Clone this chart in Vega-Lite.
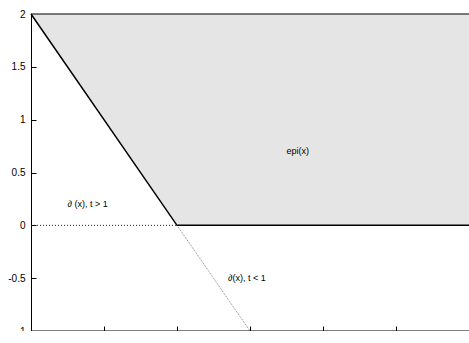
{
  "$schema": "https://vega.github.io/schema/vega-lite/v6.json",
  "autosize": {"type": "none"},
  "padding": {"left": 31, "top": 14, "right": 0, "bottom": 0},
  "width": 438,
  "height": 317,
  "background": "white",
  "config": {
    "view": {"stroke": "black", "strokeWidth": 1},
    "axis": {
      "grid": false,
      "domain": true,
      "domainColor": "black",
      "domainWidth": 1,
      "tickColor": "black",
      "tickSize": -5,
      "labelFont": "Liberation Sans",
      "labelFontSize": 10,
      "labelColor": "black",
      "title": null
    }
  },
  "datasets": {
    "lines": [
      {"s": "epi", "x": -1, "y": 2},
      {"s": "epi", "x": 1, "y": 0},
      {"s": "epi", "x": 5, "y": 0},
      {"s": "h", "x": -1, "y": 0},
      {"s": "h", "x": 1, "y": 0},
      {"s": "d", "x": 1, "y": 0},
      {"s": "d", "x": 2, "y": -1}
    ],
    "labels": [
      {"x": 2.5, "y": 0.7, "t": "epi(x)"},
      {"x": -0.5, "y": 0.2, "t": "∂ (x), t > 1"},
      {"x": 1.7, "y": -0.5, "t": "∂(x), t < 1"}
    ],
    "frame": [{"y": 2}, {"y": -1}]
  },
  "layer": [
    {
      "data": {"name": "lines"},
      "transform": [{"filter": "datum.s === 'epi'"}],
      "mark": {"type": "area", "color": "#e5e5e5", "opacity": 1},
      "encoding": {
        "x": {"field": "x", "type": "quantitative",
              "scale": {"domain": [-1, 5], "nice": false, "zero": false},
              "axis": {"values": [-1, 0, 1, 2, 3, 4, 5], "labelExpr": "'' + datum.value", "labelPadding": 9}},
        "y": {"field": "y", "type": "quantitative",
              "scale": {"domain": [-1, 2], "nice": false, "zero": false},
              "axis": {"values": [-1, -0.5, 0, 0.5, 1, 1.5, 2], "labelExpr": "'' + datum.value", "labelPadding": 11}},
        "y2": {"datum": 2}
      }
    },
    {
      "data": {"name": "frame"},
      "mark": {"type": "rule", "color": "black", "strokeWidth": 1.2},
      "encoding": {
        "y": {"field": "y", "type": "quantitative"}
      }
    },
    {
      "data": {"name": "lines"},
      "transform": [{"filter": "datum.s === 'h'"}],
      "mark": {"type": "line", "color": "#222222", "strokeWidth": 1, "strokeDash": [1, 2]},
      "encoding": {
        "x": {"field": "x", "type": "quantitative"},
        "y": {"field": "y", "type": "quantitative"}
      }
    },
    {
      "data": {"name": "lines"},
      "transform": [{"filter": "datum.s === 'd'"}],
      "mark": {"type": "line", "color": "#666666", "strokeWidth": 0.8, "strokeDash": [1, 1]},
      "encoding": {
        "x": {"field": "x", "type": "quantitative"},
        "y": {"field": "y", "type": "quantitative"}
      }
    },
    {
      "data": {"name": "lines"},
      "transform": [{"filter": "datum.s === 'epi'"}],
      "mark": {"type": "line", "color": "black", "strokeWidth": 1.5},
      "encoding": {
        "x": {"field": "x", "type": "quantitative"},
        "y": {"field": "y", "type": "quantitative"}
      }
    },
    {
      "data": {"name": "labels"},
      "mark": {"type": "text", "align": "left", "baseline": "middle", "font": "Liberation Sans", "fontSize": 9, "color": "black"},
      "encoding": {
        "x": {"field": "x", "type": "quantitative"},
        "y": {"field": "y", "type": "quantitative"},
        "text": {"field": "t"}
      }
    }
  ]
}
